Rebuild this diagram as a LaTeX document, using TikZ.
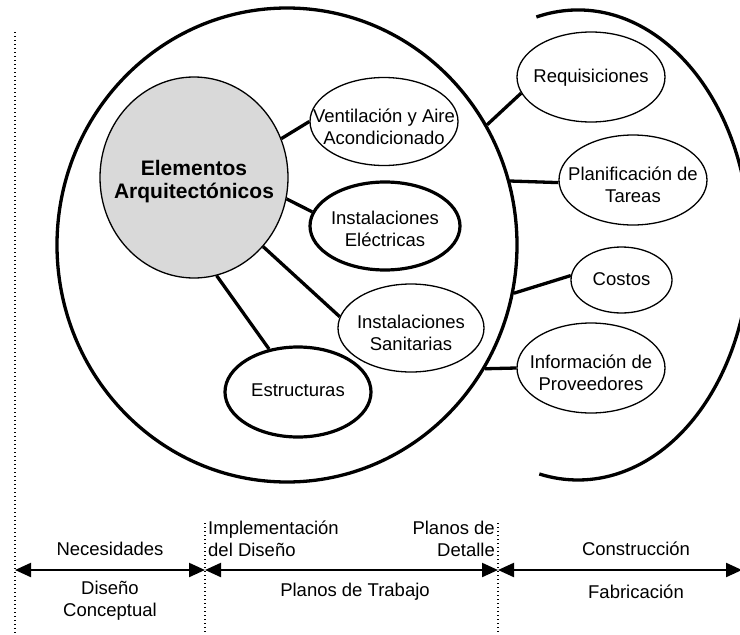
\documentclass[tikz,border=0pt]{standalone}
\usepackage{fontspec}
\setmainfont{Liberation Sans}
\usetikzlibrary{shapes.geometric,arrows.meta}
% centred multi-line label that does not widen its ellipse;
% the optional argument lowers the lines inside the oval
\newcommand{\ovaltext}[2][0pt]{\makebox[0pt]{\raisebox{-#1}[\height][\depth]{\begin{tabular}{@{}c@{}}#2\end{tabular}}}}
\tikzset{
  txt/.style={font=\fontsize{18.5}{22}\selectfont, inner sep=0pt},
  oval/.style={ellipse, draw, line width=1.3pt, inner sep=0pt, txt},
  thickoval/.style={oval, line width=3.2pt},
  link/.style={line width=3.3pt},
  ring/.style={line width=3.3pt},
  guide/.style={line width=1.4pt, dash pattern=on 1.4pt off 2.6pt},
  span/.style={line width=2.2pt, {Triangle[length=16pt,width=14pt]}-{Triangle[length=16pt,width=14pt]}}
}
\begin{document}
\begin{tikzpicture}[x=1pt,y=1pt]
\useasboundingbox (0,0) rectangle (740,-635);

% design scope
\node[ellipse, draw, ring, minimum width=460pt, minimum height=474pt, inner sep=0pt] (scope) at (287,-245) {};
% fabrication scope (open arc)
\draw[ring] (578,-245) ++(104:172pt and 235pt) arc[start angle=104, end angle=-103, x radius=172pt, y radius=235pt];

% core element
\node[ellipse, draw, fill=gray!30, line width=1.3pt, minimum width=188pt, minimum height=201pt, inner sep=0pt,
      font=\bfseries\fontsize{21}{23}\selectfont] (arch) at (194,-177.5) {\ovaltext[4.5pt]{Elementos\\Arquitectónicos}};

% disciplines
\node[oval, minimum width=148pt, minimum height=88pt] (vent) at (384,-121.5) {\ovaltext[8pt]{Ventilación y Aire\\Acondicionado}};
\node[thickoval, minimum width=150pt, minimum height=88pt] (elec) at (385,-226) {\ovaltext[5pt]{Instalaciones\\Eléctricas}};
\node[oval, minimum width=146pt, minimum height=88pt] (sanit) at (411,-328) {\ovaltext[7pt]{Instalaciones\\Sanitarias}};
\node[thickoval, minimum width=146pt, minimum height=90pt] (estr) at (298,-392) {\ovaltext{Estructuras}};

% management items
\node[oval, minimum width=148pt, minimum height=90pt] (req) at (591,-77) {\ovaltext[1pt]{Requisiciones}};
\node[oval, minimum width=148pt, minimum height=90pt] (plan) at (633,-180) {\ovaltext[7pt]{Planificación de\\Tareas}};
\node[oval, minimum width=101pt, minimum height=66pt] (cost) at (621.5,-280) {\ovaltext[1pt]{Costos}};
\node[oval, minimum width=148pt, minimum height=90pt] (info) at (591,-368) {\ovaltext[7pt]{Información de\\Proveedores}};

% links inside the design scope
\draw[link] (arch.24) -- (vent.west);
\draw[link] (arch.-13) -- (elec.169);
\draw[link] (arch.-45) -- (sanit.171);
\draw[link] (arch.-77) -- (estr.124);

% links to management items
\draw[link] (scope.31) -- (req.193);
\draw[link] (scope.16) -- (plan.182);
\draw[link] (scope.-12.5) -- (cost.175);
\draw[link] (scope.-32) -- (info.west);

% timeline
\coordinate (g0top) at (15,-32);
\coordinate (g0) at (15,-570);
\coordinate (g0bot) at (15,-635);
\coordinate (g1top) at (205,-523);
\coordinate (g1) at (205,-570);
\coordinate (g1bot) at (205,-635);
\coordinate (g2top) at (498,-523);
\coordinate (g2) at (498,-570);
\coordinate (g2bot) at (498,-635);
\coordinate (gend) at (742,-570);

\draw[guide] (g0top) -- (g0bot);
\draw[guide] (g1top) -- (g1bot);
\draw[guide] (g2top) -- (g2bot);

\draw[span] (g0) -- (g1);
\draw[span] (g1) -- (g2);
\draw[span] (g2) -- (gend);

\node[txt] (need) at (110,-549) {Necesidades};
\node[txt, align=center] (concept) at (110,-601) {Diseño\\Conceptual};
\node[txt, align=left, anchor=west] (impl) at (208,-539) {Implementación\\del Diseño};
\node[txt, align=right, anchor=east] (detail) at (495,-539) {Planos de\\Detalle};
\node[txt] (work) at (355,-592) {Planos de Trabajo};
\node[txt] (build) at (636,-549) {Construcción};
\node[txt] (fab) at (636,-592) {Fabricación};
\end{tikzpicture}
\end{document}
